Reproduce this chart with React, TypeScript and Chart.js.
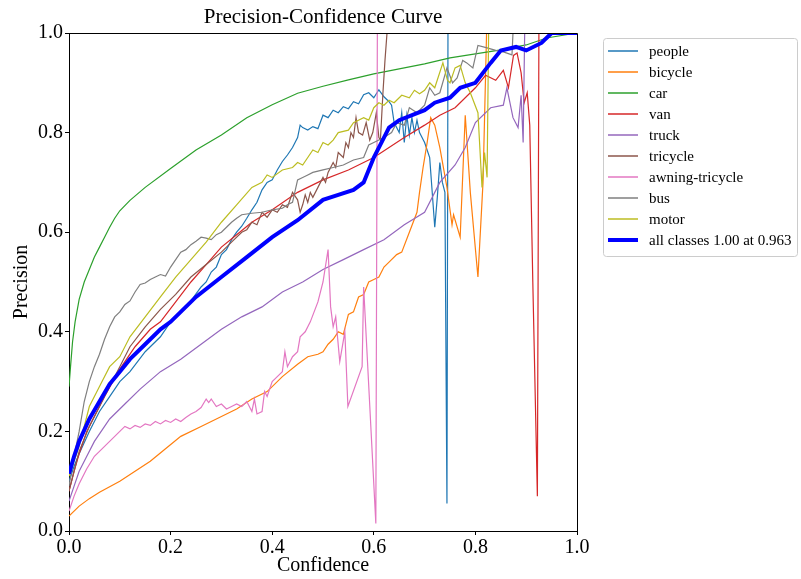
import React, { useEffect, useRef } from "react";
import { Chart, registerables } from "chart.js";

Chart.register(...registerables);

const TITLE = "Precision-Confidence Curve";
const X_TITLE = "Confidence";
const Y_TITLE = "Precision";
const TICKS = [0, 0.2, 0.4, 0.6, 0.8, 1.0];

const CLASS_NAMES = ["people", "bicycle", "car", "van", "truck", "tricycle", "awning-tricycle", "bus", "motor"];
const ALL_LABEL = "all classes 1.00 at 0.963";

const PEOPLE_X = [0, 0.01, 0.02, 0.04, 0.06, 0.08, 0.1, 0.12, 0.15, 0.18, 0.2, 0.22, 0.24, 0.26, 0.27, 0.28, 0.29, 0.3, 0.31, 0.32, 0.33, 0.34, 0.35, 0.36, 0.37, 0.38, 0.39, 0.4, 0.41, 0.42, 0.43, 0.44, 0.45, 0.455, 0.46, 0.47, 0.48, 0.49, 0.5, 0.51, 0.52, 0.53, 0.54, 0.55, 0.56, 0.57, 0.58, 0.59, 0.6, 0.61, 0.62, 0.63, 0.635, 0.64, 0.65, 0.655, 0.66, 0.665, 0.67, 0.675, 0.68, 0.685, 0.69, 0.7, 0.71, 0.72, 0.725, 0.73, 0.735, 0.74, 0.744, 0.746, 1.0];
const PEOPLE_Y = [0.1, 0.13, 0.155, 0.2, 0.24, 0.27, 0.3, 0.32, 0.36, 0.39, 0.42, 0.44, 0.462, 0.49, 0.5, 0.52, 0.53, 0.555, 0.565, 0.585, 0.6, 0.612, 0.628, 0.645, 0.66, 0.685, 0.7, 0.705, 0.725, 0.742, 0.755, 0.77, 0.79, 0.815, 0.81, 0.805, 0.812, 0.808, 0.835, 0.83, 0.845, 0.84, 0.852, 0.848, 0.862, 0.858, 0.876, 0.88, 0.87, 0.886, 0.872, 0.862, 0.855, 0.82, 0.8, 0.84, 0.78, 0.835, 0.795, 0.83, 0.8, 0.825, 0.8, 0.78, 0.75, 0.61, 0.67, 0.74, 0.7, 0.68, 0.055, 1.0, 1.0];

const BICYCLE_X = [0, 0.02, 0.04, 0.06, 0.1, 0.13, 0.16, 0.19, 0.22, 0.26, 0.3, 0.33, 0.36, 0.39, 0.42, 0.45, 0.47, 0.49, 0.5, 0.51, 0.52, 0.53, 0.54, 0.55, 0.56, 0.57, 0.58, 0.59, 0.6, 0.61, 0.62, 0.63, 0.645, 0.655, 0.67, 0.685, 0.69, 0.697, 0.705, 0.712, 0.72, 0.73, 0.744, 0.754, 0.757, 0.77, 0.78, 0.79, 0.805, 0.815, 0.822, 1.0];
const BICYCLE_Y = [0.03, 0.05, 0.065, 0.078, 0.1, 0.12, 0.14, 0.165, 0.19, 0.21, 0.23, 0.245, 0.265, 0.28, 0.31, 0.335, 0.35, 0.355, 0.36, 0.375, 0.385, 0.4, 0.395, 0.435, 0.44, 0.47, 0.475, 0.5, 0.505, 0.51, 0.53, 0.54, 0.555, 0.56, 0.6, 0.64, 0.68, 0.73, 0.78, 0.83, 0.815, 0.77, 0.69, 0.615, 0.635, 0.59, 0.835, 0.68, 0.51, 0.7, 1.0, 1.0];

const CAR_X = [0, 0.003, 0.007, 0.012, 0.02, 0.03, 0.04, 0.05, 0.06, 0.07, 0.08, 0.09, 0.1, 0.12, 0.15, 0.2, 0.25, 0.3, 0.35, 0.4, 0.45, 0.5, 0.55, 0.6, 0.65, 0.7, 0.75, 0.8, 0.85, 0.9, 0.94, 1.0];
const CAR_Y = [0.29, 0.33, 0.38, 0.42, 0.465, 0.5, 0.525, 0.55, 0.57, 0.59, 0.61, 0.628, 0.643, 0.664, 0.69, 0.728, 0.765, 0.795, 0.83, 0.856, 0.879, 0.893, 0.906, 0.918, 0.928, 0.938, 0.95, 0.958, 0.966, 0.976, 0.99, 1.0];

const VAN_X = [0, 0.01, 0.02, 0.035, 0.05, 0.07, 0.1, 0.13, 0.16, 0.18, 0.21, 0.24, 0.27, 0.3, 0.33, 0.36, 0.4, 0.45, 0.5, 0.55, 0.6, 0.63, 0.66, 0.7, 0.73, 0.76, 0.8, 0.82, 0.84, 0.855, 0.865, 0.875, 0.882, 0.89, 0.896, 0.902, 0.907, 0.913, 0.922, 0.925, 1.0];
const VAN_Y = [0.08, 0.12, 0.155, 0.2, 0.23, 0.27, 0.325, 0.37, 0.405, 0.42, 0.46, 0.5, 0.535, 0.57, 0.595, 0.62, 0.645, 0.68, 0.705, 0.725, 0.75, 0.77, 0.79, 0.815, 0.835, 0.85, 0.89, 0.915, 0.905, 0.925, 0.89, 0.955, 0.96, 0.92, 0.86, 0.88, 0.815, 0.5, 0.07, 1.0, 1.0];

const TRUCK_X = [0, 0.01, 0.02, 0.035, 0.05, 0.08, 0.11, 0.14, 0.18, 0.22, 0.26, 0.3, 0.34, 0.38, 0.42, 0.46, 0.5, 0.54, 0.58, 0.62, 0.66, 0.7, 0.73, 0.76, 0.78, 0.8, 0.83, 0.855, 0.862, 0.874, 0.884, 0.89, 0.894, 0.897, 1.0];
const TRUCK_Y = [0.06, 0.09, 0.12, 0.15, 0.18, 0.225, 0.255, 0.285, 0.32, 0.345, 0.375, 0.405, 0.43, 0.45, 0.48, 0.5, 0.525, 0.545, 0.565, 0.585, 0.615, 0.64, 0.7, 0.735, 0.77, 0.82, 0.85, 0.855, 0.89, 0.83, 0.81, 0.875, 0.78, 1.0, 1.0];

const TRICYCLE_X = [0, 0.01, 0.02, 0.04, 0.06, 0.08, 0.1, 0.12, 0.15, 0.18, 0.21, 0.24, 0.27, 0.3, 0.32, 0.34, 0.35, 0.36, 0.37, 0.38, 0.39, 0.4, 0.41, 0.42, 0.43, 0.44, 0.45, 0.455, 0.46, 0.465, 0.47, 0.475, 0.48, 0.49, 0.5, 0.505, 0.51, 0.52, 0.525, 0.53, 0.54, 0.545, 0.55, 0.555, 0.56, 0.565, 0.57, 0.578, 0.585, 0.592, 0.598, 0.605, 0.61, 0.613, 0.618, 0.622, 0.626, 1.0];
const TRICYCLE_Y = [0.08, 0.12, 0.16, 0.21, 0.25, 0.29, 0.33, 0.37, 0.41, 0.445, 0.475, 0.51, 0.535, 0.56, 0.58, 0.6, 0.605, 0.62, 0.615, 0.64, 0.63, 0.645, 0.64, 0.655, 0.65, 0.68, 0.665, 0.64, 0.655, 0.675, 0.66, 0.68, 0.67, 0.69, 0.71, 0.7, 0.72, 0.74, 0.73, 0.76, 0.75, 0.78, 0.77, 0.8, 0.79, 0.83, 0.8, 0.795, 0.82, 0.785, 0.8, 0.84, 0.79, 0.785, 0.88, 0.945, 1.0, 1.0];

const AWNING_X = [0, 0.01, 0.02, 0.035, 0.05, 0.07, 0.09, 0.1, 0.11, 0.12, 0.13, 0.14, 0.15, 0.16, 0.17, 0.18, 0.19, 0.2, 0.21, 0.22, 0.23, 0.24, 0.25, 0.26, 0.27, 0.275, 0.28, 0.29, 0.3, 0.31, 0.32, 0.33, 0.34, 0.35, 0.36, 0.365, 0.37, 0.38, 0.385, 0.39, 0.4, 0.41, 0.42, 0.425, 0.43, 0.44, 0.45, 0.455, 0.465, 0.475, 0.49, 0.5, 0.51, 0.515, 0.52, 0.525, 0.533, 0.543, 0.549, 0.577, 0.58, 0.604, 0.607, 1.0];
const AWNING_Y = [0.04, 0.07, 0.095, 0.125, 0.15, 0.17, 0.19, 0.2, 0.21, 0.205, 0.212, 0.208, 0.215, 0.212, 0.22, 0.215, 0.222, 0.218, 0.225, 0.22, 0.228, 0.235, 0.24, 0.248, 0.265, 0.258, 0.265, 0.25, 0.255, 0.245, 0.25, 0.255, 0.25, 0.26, 0.24, 0.265, 0.235, 0.24, 0.28, 0.27, 0.3, 0.31, 0.32, 0.36, 0.33, 0.35, 0.36, 0.39, 0.4, 0.42, 0.46, 0.5, 0.565, 0.45, 0.41, 0.43, 0.34, 0.4, 0.25, 0.33, 0.49, 0.015, 1.0, 1.0];

const BUS_X = [0, 0.01, 0.02, 0.03, 0.04, 0.05, 0.06, 0.07, 0.08, 0.09, 0.1, 0.11, 0.12, 0.13, 0.14, 0.15, 0.16, 0.17, 0.18, 0.19, 0.2, 0.21, 0.22, 0.23, 0.24, 0.25, 0.26, 0.27, 0.28, 0.29, 0.3, 0.31, 0.32, 0.33, 0.34, 0.36, 0.38, 0.4, 0.42, 0.43, 0.44, 0.45, 0.46, 0.47, 0.48, 0.5, 0.52, 0.54, 0.56, 0.58, 0.59, 0.6, 0.62, 0.635, 0.645, 0.66, 0.67, 0.685, 0.7, 0.71, 0.72, 0.73, 0.744, 0.755, 0.764, 0.775, 0.783, 0.795, 0.805, 0.823, 0.84, 0.855, 0.872, 0.874, 1.0];
const BUS_Y = [0.09, 0.15, 0.2, 0.26, 0.3, 0.33, 0.355, 0.385, 0.41, 0.43, 0.44, 0.455, 0.462, 0.48, 0.495, 0.498, 0.505, 0.51, 0.515, 0.512, 0.53, 0.545, 0.56, 0.565, 0.575, 0.582, 0.59, 0.588, 0.585, 0.595, 0.6, 0.61, 0.62, 0.628, 0.635, 0.638, 0.64, 0.645, 0.648, 0.655, 0.66, 0.705, 0.71, 0.715, 0.72, 0.725, 0.73, 0.735, 0.745, 0.75, 0.775, 0.78, 0.79, 0.8, 0.82, 0.815, 0.85, 0.84, 0.855, 0.89, 0.875, 0.88, 0.93, 0.9, 0.91, 0.945, 0.94, 0.93, 0.975, 0.97, 0.965, 0.962, 0.956, 1.0, 1.0];

const MOTOR_X = [0, 0.01, 0.02, 0.04, 0.06, 0.08, 0.1, 0.12, 0.15, 0.18, 0.21, 0.24, 0.27, 0.3, 0.33, 0.36, 0.38, 0.39, 0.4, 0.42, 0.44, 0.45, 0.46, 0.48, 0.49, 0.5, 0.51, 0.52, 0.53, 0.55, 0.56, 0.58, 0.59, 0.6, 0.61, 0.62, 0.63, 0.64, 0.655, 0.67, 0.68, 0.69, 0.7, 0.71, 0.72, 0.736, 0.745, 0.75, 0.76, 0.77, 0.78, 0.79, 0.805, 0.813, 0.818, 0.823, 0.826, 1.0];
const MOTOR_Y = [0.11, 0.14, 0.17, 0.25, 0.29, 0.33, 0.35, 0.39, 0.43, 0.47, 0.51, 0.545, 0.58, 0.62, 0.655, 0.69, 0.7, 0.715, 0.71, 0.725, 0.73, 0.74, 0.735, 0.765, 0.76, 0.78, 0.775, 0.785, 0.8, 0.805, 0.82, 0.83, 0.825, 0.85, 0.86, 0.855, 0.865, 0.86, 0.875, 0.87, 0.885, 0.878, 0.885, 0.9, 0.89, 0.94, 0.905, 0.9, 0.93, 0.935, 0.9, 0.88, 0.84, 0.69, 0.76, 0.71, 1.0, 1.0];

const ALL_X = [0, 0.01, 0.02, 0.04, 0.06, 0.08, 0.1, 0.12, 0.15, 0.18, 0.2, 0.25, 0.3, 0.35, 0.4, 0.45, 0.5, 0.53, 0.56, 0.58, 0.6, 0.62, 0.63, 0.65, 0.7, 0.72, 0.75, 0.77, 0.8, 0.83, 0.85, 0.88, 0.9, 0.93, 0.95, 1.0];
const ALL_Y = [0.115, 0.15, 0.18, 0.225, 0.26, 0.295, 0.32, 0.345, 0.375, 0.405, 0.42, 0.47, 0.51, 0.55, 0.59, 0.624, 0.665, 0.675, 0.685, 0.7, 0.75, 0.79, 0.81, 0.825, 0.845, 0.86, 0.87, 0.89, 0.9, 0.94, 0.965, 0.972, 0.965, 0.98, 1.0, 1.0];

const CLASS_X = [PEOPLE_X, BICYCLE_X, CAR_X, VAN_X, TRUCK_X, TRICYCLE_X, AWNING_X, BUS_X, MOTOR_X];
const CLASS_Y = [PEOPLE_Y, BICYCLE_Y, CAR_Y, VAN_Y, TRUCK_Y, TRICYCLE_Y, AWNING_Y, BUS_Y, MOTOR_Y];
const CLASS_COLORS = ["#1f77b4", "#ff7f0e", "#2ca02c", "#d62728", "#9467bd", "#8c564b", "#e377c2", "#7f7f7f", "#bcbd22"];
const ALL_COLOR = "#0000ff";

const FONT = "'Liberation Serif', 'Times New Roman', serif";

const toPoints = (xs: number[], ys: number[]) => xs.map((x, i) => ({ x, y: ys[i] }));

const decorPlugin = {
  id: "decor",
  afterDraw(chart: any) {
    const { ctx, chartArea } = chart;
    ctx.save();
    ctx.strokeStyle = "#000";
    ctx.lineWidth = 1;
    ctx.beginPath();
    ctx.moveTo(chartArea.left, chartArea.top + 0.5);
    ctx.lineTo(chartArea.right + 0.5, chartArea.top + 0.5);
    ctx.lineTo(chartArea.right + 0.5, chartArea.bottom);
    ctx.stroke();
    ctx.fillStyle = "#000";
    ctx.font = `21px ${FONT}`;
    ctx.textAlign = "center";
    ctx.textBaseline = "middle";
    ctx.fillText(TITLE, (chartArea.left + chartArea.right) / 2, 17);
    const bx = 603.5, by = 38.5, bw = 194, bh = 218;
    ctx.fillStyle = "rgba(255,255,255,0.8)";
    ctx.strokeStyle = "#cccccc";
    ctx.lineWidth = 1;
    ctx.beginPath();
    ctx.roundRect(bx, by, bw, bh, 3);
    ctx.fill();
    ctx.stroke();
    const labels = [...CLASS_NAMES, ALL_LABEL];
    const colors = [...CLASS_COLORS, ALL_COLOR];
    ctx.font = `15px ${FONT}`;
    ctx.textAlign = "left";
    labels.forEach((lab, i) => {
      const y = 51 + i * 21;
      ctx.strokeStyle = colors[i];
      ctx.lineWidth = i === labels.length - 1 ? 4 : 1.5;
      ctx.beginPath();
      ctx.moveTo(608, y);
      ctx.lineTo(638, y);
      ctx.stroke();
      ctx.fillStyle = "#000";
      ctx.fillText(lab, 649, y + 1);
    });
    ctx.restore();
  },
};

export default function App() {
  const ref = useRef<HTMLCanvasElement | null>(null);
  useEffect(() => {
    if (!ref.current) return;
    const datasets: any[] = CLASS_NAMES.map((name, i) => ({
      label: name,
      data: toPoints(CLASS_X[i], CLASS_Y[i]),
      borderColor: CLASS_COLORS[i],
      borderWidth: 1.2,
      pointRadius: 0,
      tension: 0,
      fill: false,
      order: CLASS_NAMES.length - i,
    }));
    datasets.push({
      label: ALL_LABEL,
      data: toPoints(ALL_X, ALL_Y),
      borderColor: ALL_COLOR,
      borderWidth: 4,
      pointRadius: 0,
      tension: 0,
      fill: false,
      order: 0,
    });
    const tickFont = { family: FONT, size: 20 };
    const chart = new Chart(ref.current, {
      type: "line",
      data: { datasets },
      options: {
        animation: false,
        responsive: false,
        devicePixelRatio: 1,
        layout: { padding: { left: 0, top: 33, right: 224, bottom: 0 } },
        plugins: { legend: { display: false }, tooltip: { enabled: false }, title: { display: false } },
        scales: {
          x: {
            type: "linear",
            min: 0,
            max: 1,
            afterBuildTicks: (s: any) => { s.ticks = TICKS.map((v) => ({ value: v })); },
            afterFit: (s: any) => { s.height = 48; },
            ticks: { font: tickFont, color: "#000", padding: 1, callback: (v: any) => Number(v).toFixed(1), maxRotation: 0 },
            grid: { drawOnChartArea: false, drawTicks: true, tickLength: 4, color: "#000" },
            border: { display: true, color: "#000", width: 1 },
            title: { display: true, text: X_TITLE, font: { family: FONT, size: 20 }, color: "#000", padding: { top: 1, bottom: 1 } },
          },
          y: {
            type: "linear",
            min: 0,
            max: 1,
            afterBuildTicks: (s: any) => { s.ticks = TICKS.map((v) => ({ value: v })); },
            afterFit: (s: any) => { s.width = 69; },
            ticks: { font: tickFont, color: "#000", padding: 2, callback: (v: any) => Number(v).toFixed(1) },
            grid: { drawOnChartArea: false, drawTicks: true, tickLength: 4, color: "#000" },
            border: { display: true, color: "#000", width: 1 },
            title: { display: true, text: Y_TITLE, font: { family: FONT, size: 20 }, color: "#000", padding: { top: 10, bottom: 10 } },
          },
        },
      },
      plugins: [decorPlugin],
    });
    return () => chart.destroy();
  }, []);
  return (
    <div style={{ position: "fixed", left: 0, top: 0, width: 801, height: 579, background: "#fff" }}>
      <canvas ref={ref} width={801} height={579} style={{ width: 801, height: 579, display: "block" }} />
    </div>
  );
}
